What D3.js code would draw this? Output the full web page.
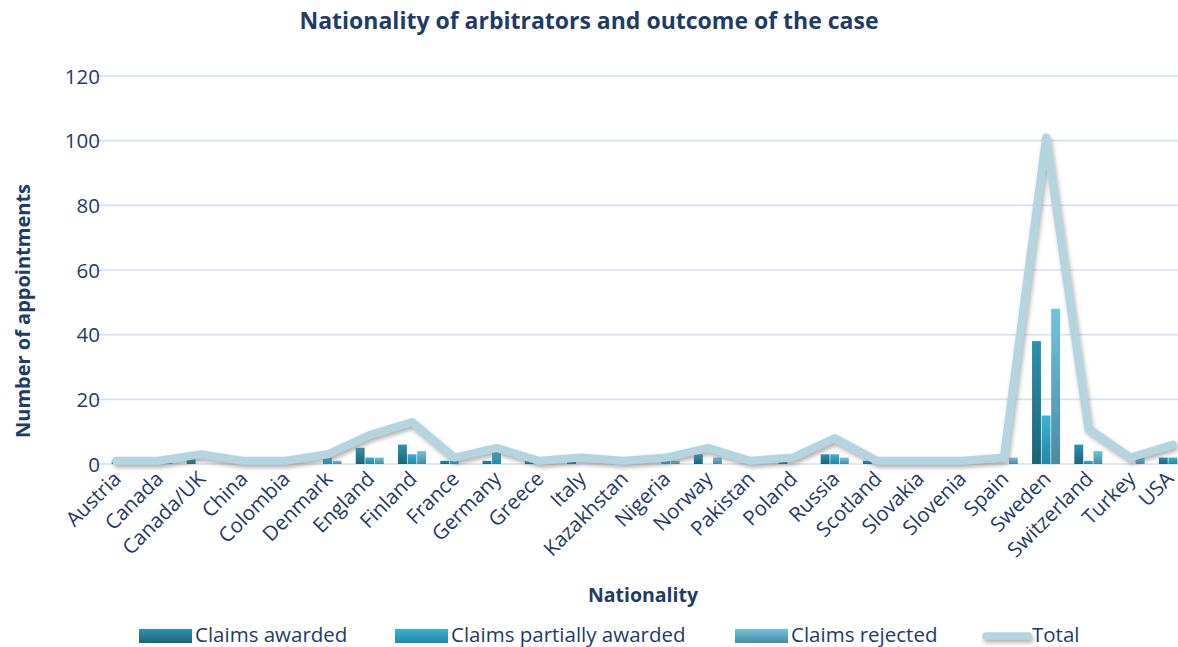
<!DOCTYPE html>
<html><head><meta charset="utf-8">
<script src="https://cdn.jsdelivr.net/npm/d3@7"></script>
<style>body{margin:0;background:#fff}svg{display:block;font-family:"Open Sans",Lato,sans-serif}</style>
</head><body><svg id="c" width="1178" height="647"></svg>
<script>
const categories = ["Austria","Canada","Canada/UK","China","Colombia","Denmark","England","Finland","France","Germany","Greece","Italy","Kazakhstan","Nigeria","Norway","Pakistan","Poland","Russia","Scotland","Slovakia","Slovenia","Spain","Sweden","Switzerland","Turkey","USA"];
const claimsAwarded =          [0,0,3,0,0,0,5,6,1,1,1,2,0,0,3,0,2,3,1,0,0,0,38,6,0,2];
const claimsPartiallyAwarded = [1,0,0,1,1,2,2,3,1,4,0,0,1,1,0,1,0,3,0,1,1,0,15,1,0,2];
const claimsRejected =         [0,1,0,0,0,1,2,4,0,0,0,0,0,1,2,0,0,2,0,0,0,2,48,4,2,2];
const total =                  [1,1,3,1,1,3,9,13,2,5,1,2,1,2,5,1,2,8,1,1,1,2,101,11,2,6];
const yTicks = [0,20,40,60,80,100,120];
const seriesNames = ["Claims awarded","Claims partially awarded","Claims rejected"];
const totalName = "Total";

const navy = "#1f3b6a";
const svg = d3.select("#c");
const defs = svg.append("defs");
const grads = [["g0","#2b93ad","#1b6479"],["g1","#38b3d3","#2487a4"],["g2","#70c4de","#4a8aa2"]];
grads.forEach(([id,a,b])=>{
  const g = defs.append("linearGradient").attr("id",id).attr("x1",0).attr("y1",0).attr("x2",0).attr("y2",1);
  g.append("stop").attr("offset","0%").attr("stop-color",a);
  g.append("stop").attr("offset","100%").attr("stop-color",b);
});
const f = defs.append("filter").attr("id","sh").attr("filterUnits","userSpaceOnUse")
  .attr("x",0).attr("y",0).attr("width",1178).attr("height",647);
f.append("feDropShadow").attr("dx",1.5).attr("dy",3).attr("stdDeviation",2).attr("flood-color","#707070").attr("flood-opacity",0.55);

const x = d3.scaleBand().domain(categories).range([95,1194]).padding(0);
const y = d3.scaleLinear().domain([0,120]).range([464,76]);
const sub = d3.scaleBand().domain(seriesNames).range([-14,14]).paddingInner(0.07);

// gridlines
svg.append("g").selectAll("line").data(yTicks).join("line")
  .attr("x1",94).attr("x2",1194).attr("y1",d=>y(d)).attr("y2",d=>y(d))
  .attr("stroke","#d5e1f2").attr("stroke-width",1.6);

// y axis labels
const yAxis = d3.axisLeft(y).tickValues(yTicks).tickSize(0).tickPadding(0);
const ya = svg.append("g").attr("transform","translate(100,0)").call(yAxis);
ya.select(".domain").remove();
ya.selectAll("text").attr("fill",navy).attr("font-size",20.5).attr("font-family","Open Sans").attr("dy","0.35em");

// x axis labels
const xa = svg.append("g");
xa.selectAll("text").data(categories).join("text")
  .attr("transform",(d,i)=>`translate(${x(d)+x.bandwidth()/2+(i===categories.length-1?-3:1)},475) rotate(-45)`)
  .attr("text-anchor","end").attr("dy","0.35em")
  .attr("fill",navy).attr("font-size",20.5).text(d=>d);

// bars
const seriesData = [claimsAwarded,claimsPartiallyAwarded,claimsRejected];
seriesData.forEach((vals,si)=>{
  svg.append("g").selectAll("rect").data(vals).join("rect")
    .attr("x",(d,i)=>x(categories[i])+x.bandwidth()/2+sub(seriesNames[si]))
    .attr("width",sub.bandwidth())
    .attr("y",d=>y(d)).attr("height",d=>y(0)-y(d))
    .attr("fill",`url(#g${si})`);
});

// total line
const line = d3.line().x((d,i)=>x(categories[i])+x.bandwidth()/2).y(d=>y(d));
svg.append("path").datum(total).attr("d",line).attr("fill","none")
  .attr("stroke","#b4d4e0").attr("stroke-width",8).attr("stroke-linejoin","round").attr("stroke-linecap","round")
  .attr("filter","url(#sh)");

// title
svg.append("text").attr("x",589).attr("y",29).attr("text-anchor","middle")
  .attr("font-weight","bold").attr("font-size",23).attr("fill",navy)
  .text("Nationality of arbitrators and outcome of the case");
// axis titles
svg.append("text").attr("transform","translate(30,311) rotate(-90)").attr("text-anchor","middle")
  .attr("font-weight","bold").attr("font-size",20).attr("fill",navy).text("Number of appointments");
svg.append("text").attr("x",643).attr("y",602).attr("text-anchor","middle")
  .attr("font-weight","bold").attr("font-size",19.5).attr("fill",navy).text("Nationality");

// legend
const lg = svg.append("g");
const lx = [139,395,735];
seriesNames.forEach((n,i)=>{
  lg.append("rect").attr("x",lx[i]).attr("y",629).attr("width",53).attr("height",14).attr("fill",`url(#g${i})`);
  lg.append("text").attr("x",lx[i]+56).attr("y",642).attr("font-size",20.5).attr("fill",navy).text(n);
});
lg.append("line").attr("x1",986).attr("x2",1028).attr("y1",636).attr("y2",636)
  .attr("stroke","#b4d4e0").attr("stroke-width",7.5).attr("stroke-linecap","round").attr("filter","url(#sh)");
lg.append("text").attr("x",1032).attr("y",642).attr("font-size",20.5).attr("fill",navy).text(totalName);
</script></body></html>
